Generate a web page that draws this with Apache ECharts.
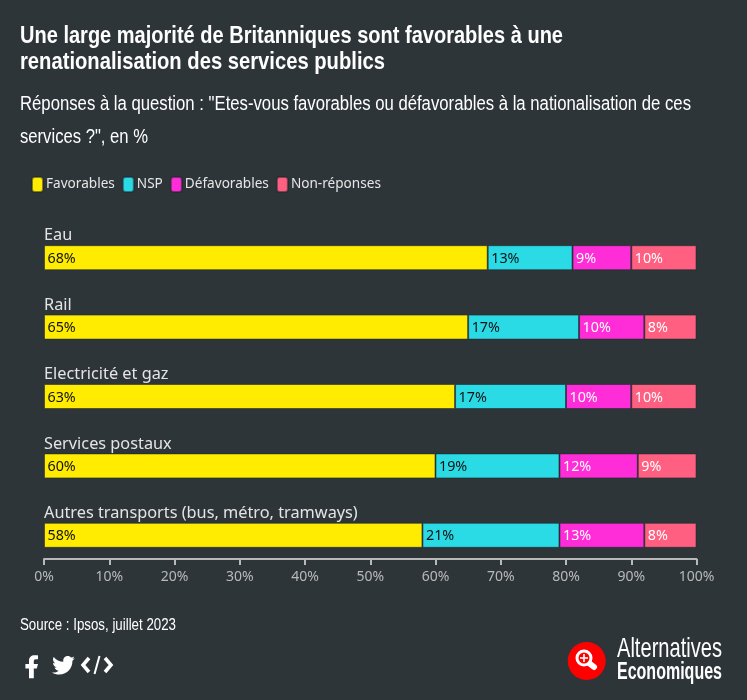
<!DOCTYPE html>
<html><head><meta charset="utf-8">
<style>html,body{margin:0;padding:0;background:#2e3539}#c{width:747px;height:700px}</style>
<script src="https://cdn.jsdelivr.net/npm/echarts@6/dist/echarts.min.js"></script>
</head><body><div id="c"></div>
<script>
const categories = ["Eau","Rail","Electricité et gaz","Services postaux","Autres transports (bus, métro, tramways)"];
const favorables = [68,65,63,60,58];
const nsp = [13,17,17,19,21];
const defavorables = [9,10,10,12,13];
const nonReponses = [10,8,10,9,8];
const narrow = '"Liberation Sans"';
const body = '"Noto Sans"';
function s(name,data,color,labelColor){
  return {name,type:'bar',stack:'t',data,barWidth:25,
    itemStyle:{color,borderColor:'rgba(30,40,45,0.55)',borderWidth:1},
    emphasis:{disabled:true},
    label:{show:true,position:'insideLeft',distance:3.5,offset:[0,1],formatter:'{c}%',color:labelColor,fontFamily:body,fontSize:14.3}};
}
echarts.graphic.registerShape('fbIcon',echarts.graphic.extendPath('M14 13.5h2.5l1-4H14v-2c0-1.03 0-2 2-2h1.5V2.14c-.326-.043-1.557-.14-2.857-.14C11.928 2 10 3.657 10 6.7v2.8H7v4h3V22h4v-8.5z',{}));
echarts.graphic.registerShape('twIcon',echarts.graphic.extendPath('M24 4.6 C23.1 5 22.2 5.2 21.2 5.4 C22.2 4.8 23 3.8 23.3 2.6 C22.4 3.2 21.3 3.6 20.2 3.8 C19.3 2.8 18.1 2.2 16.7 2.2 C14 2.2 11.8 4.4 11.8 7.1 C11.8 7.5 11.9 7.9 12 8.2 C7.9 8 4.3 6.1 1.8 3.1 C1.4 3.8 1.1 4.7 1.1 5.6 C1.1 7.3 2 8.8 3.3 9.7 C2.5 9.7 1.7 9.5 1 9.1 L1 9.2 C1 11.6 2.7 13.5 4.9 14 C4.5 14.1 4.1 14.2 3.6 14.2 C3.3 14.2 3 14.2 2.7 14.1 C3.3 16 5.1 17.4 7.2 17.5 C5.5 18.8 3.4 19.6 1.2 19.6 C.8 19.6 .4 19.6 0 19.5 C2.2 20.9 4.8 21.7 7.5 21.7 C16.6 21.7 21.5 14.2 21.5 7.7 L21.5 7.1 C22.5 6.4 23.3 5.5 24 4.6 Z',{}));
const chart = echarts.init(document.getElementById('c'),null,{renderer:'canvas'});
const mctx = document.createElement('canvas').getContext('2d');
function txt(text,x,y,size,weight,targetW,color,font){
  mctx.font = weight+' '+size+'px '+(font||narrow);
  const w = mctx.measureText(text).width;
  return {type:'text',x,y,scaleX:targetW/w,style:{text,fontFamily:font||narrow,fontSize:size,fontWeight:weight,fill:color||'#fff',textVerticalAlign:'middle'}};
}
chart.setOption({
  backgroundColor:'#2e3539',animation:false,
  legend:{left:26,top:171,itemWidth:11,itemHeight:15,itemGap:7,icon:'roundRect',
    textStyle:{color:'#e6e6e6',fontFamily:body,fontSize:13.6,padding:[0,0,0,-2]},
    data:['Favorables','NSP','Défavorables','Non-réponses']},
  grid:{left:44,right:50.5,top:223,bottom:130},
  xAxis:{type:'value',min:0,max:100,interval:10,offset:-11,
    axisLine:{show:true,lineStyle:{color:'#b9b9b9',width:2}},
    axisTick:{show:true,length:6,lineStyle:{color:'#b9b9b9',width:2}},
    splitLine:{show:false},
    axisLabel:{color:'#b9b9b9',fontFamily:body,fontSize:14,margin:11,formatter:'{value}%',hideOverlap:false,showMinLabel:true,showMaxLabel:true}},
  yAxis:{type:'category',inverse:true,data:categories,
    axisLine:{show:false},axisTick:{show:false},
    axisLabel:{inside:true,margin:0,color:'#e4e4e4',fontFamily:body,fontSize:16.3,align:'left',verticalAlign:'bottom',padding:[0,0,14,0]}},
  series:[s('Favorables',favorables,'#ffec00','#111'),s('NSP',nsp,'#2adbe6','#111'),s('Défavorables',defavorables,'#ff2dd8','#fff'),s('Non-réponses',nonReponses,'#ff5f80','#fff')],
  graphic:[
    txt('Une large majorité de Britanniques sont favorables à une',20,36,24,'bold',543),
    txt('renationalisation des services publics',20,62,24,'bold',365),
    txt('Réponses à la question : "Etes-vous favorables ou défavorables à la nationalisation de ces',20,104,20,'normal',671),
    txt('services ?", en %',20,137,20,'normal',128),
    txt('Source : Ipsos, juillet 2023',20,626,16,'normal',156),
    txt('Alternatives',617,649,28,'normal',105),
    txt('Economiques',617,673,23,'bold',105),
    {type:'fbIcon',x:17,y:653,scaleX:1.2,scaleY:1.15,style:{fill:'#fff'}},
    {type:'twIcon',x:52,y:654,scaleX:0.95,scaleY:0.95,style:{fill:'#fff'}},
    {type:'polyline',shape:{points:[[89,658],[83,665],[89,672]]},style:{stroke:'#fff',lineWidth:3.5,fill:null}},
    {type:'polyline',shape:{points:[[105,658],[111,665],[105,672]]},style:{stroke:'#fff',lineWidth:3.5,fill:null}},
    {type:'line',shape:{x1:99.5,y1:656,x2:94.5,y2:674},style:{stroke:'#fff',lineWidth:2}},
    {type:'circle',shape:{cx:586.7,cy:661,r:19},style:{fill:'#ff0000'}},
    {type:'line',shape:{x1:589,y1:663,x2:594,y2:667},style:{stroke:'#fff',lineWidth:6,lineCap:'round'}},
    {type:'circle',shape:{cx:584,cy:658,r:7},style:{fill:'#ff0000',stroke:'#fff',lineWidth:3}},
    {type:'line',shape:{x1:580,y1:658,x2:588,y2:658},style:{stroke:'#fff',lineWidth:1.6}},
    {type:'line',shape:{x1:584,y1:654,x2:584,y2:662},style:{stroke:'#fff',lineWidth:1.6}}
  ]
});
</script></body></html>
